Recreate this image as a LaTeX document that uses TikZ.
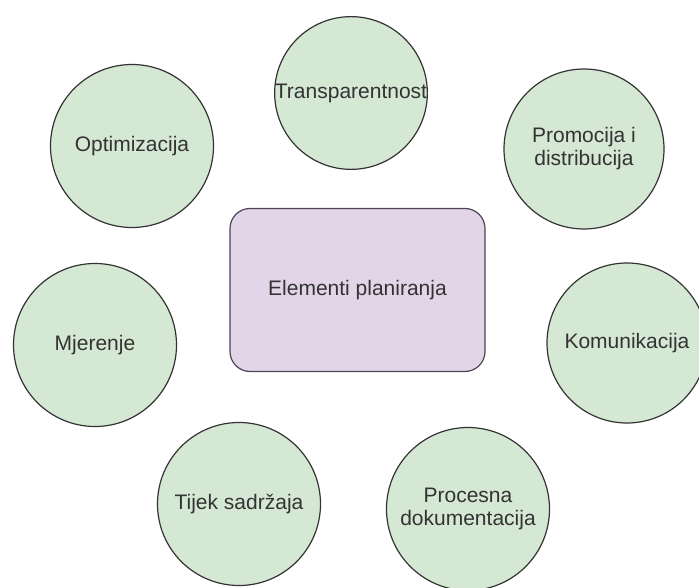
\documentclass[tikz,border=0pt]{standalone}
\usepackage{fontspec}
\setmainfont{Liberation Sans}
\definecolor{cfill}{HTML}{D5E8D4}
\definecolor{rfill}{HTML}{E1D5E7}
\definecolor{cdraw}{HTML}{333333}
\definecolor{rdraw}{HTML}{4D4455}
\definecolor{txt}{HTML}{333333}
\begin{document}
\begin{tikzpicture}[x=1pt,y=-1pt,
  elem/.style={circle,draw=cdraw,fill=cfill,line width=1.2pt,inner sep=0pt,
    minimum size=163pt,align=center,text=txt,font=\fontsize{21}{23}\selectfont},
  core/.style={rectangle,rounded corners=20pt,draw=rdraw,fill=rfill,line width=1.2pt,
    minimum width=255pt,minimum height=163pt,align=center,text=txt,font=\fontsize{21}{23}\selectfont}]
\useasboundingbox (0,0) rectangle (699,588);
\begin{scope}
\clip (0,0) rectangle (699,588);
\node[core] (c) at (357.5,290) {Elementi planiranja};
\node[elem,minimum size=150pt] (t) at (351,93) {Transparentnost};
\node[elem] (o) at (132,146) {Optimizacija};
\node[elem,minimum size=160pt] (p) at (584,149) {Promocija i\\distribucija};
\node[elem] (m) at (95,345) {Mjerenje};
\node[elem,minimum size=160pt] (k) at (627,343) {Komunikacija};
\node[elem] (tj) at (239,504) {Tijek sadržaja};
\node[elem] (pr) at (468,509) {Procesna\\dokumentacija};
\end{scope}
\end{tikzpicture}
\end{document}
